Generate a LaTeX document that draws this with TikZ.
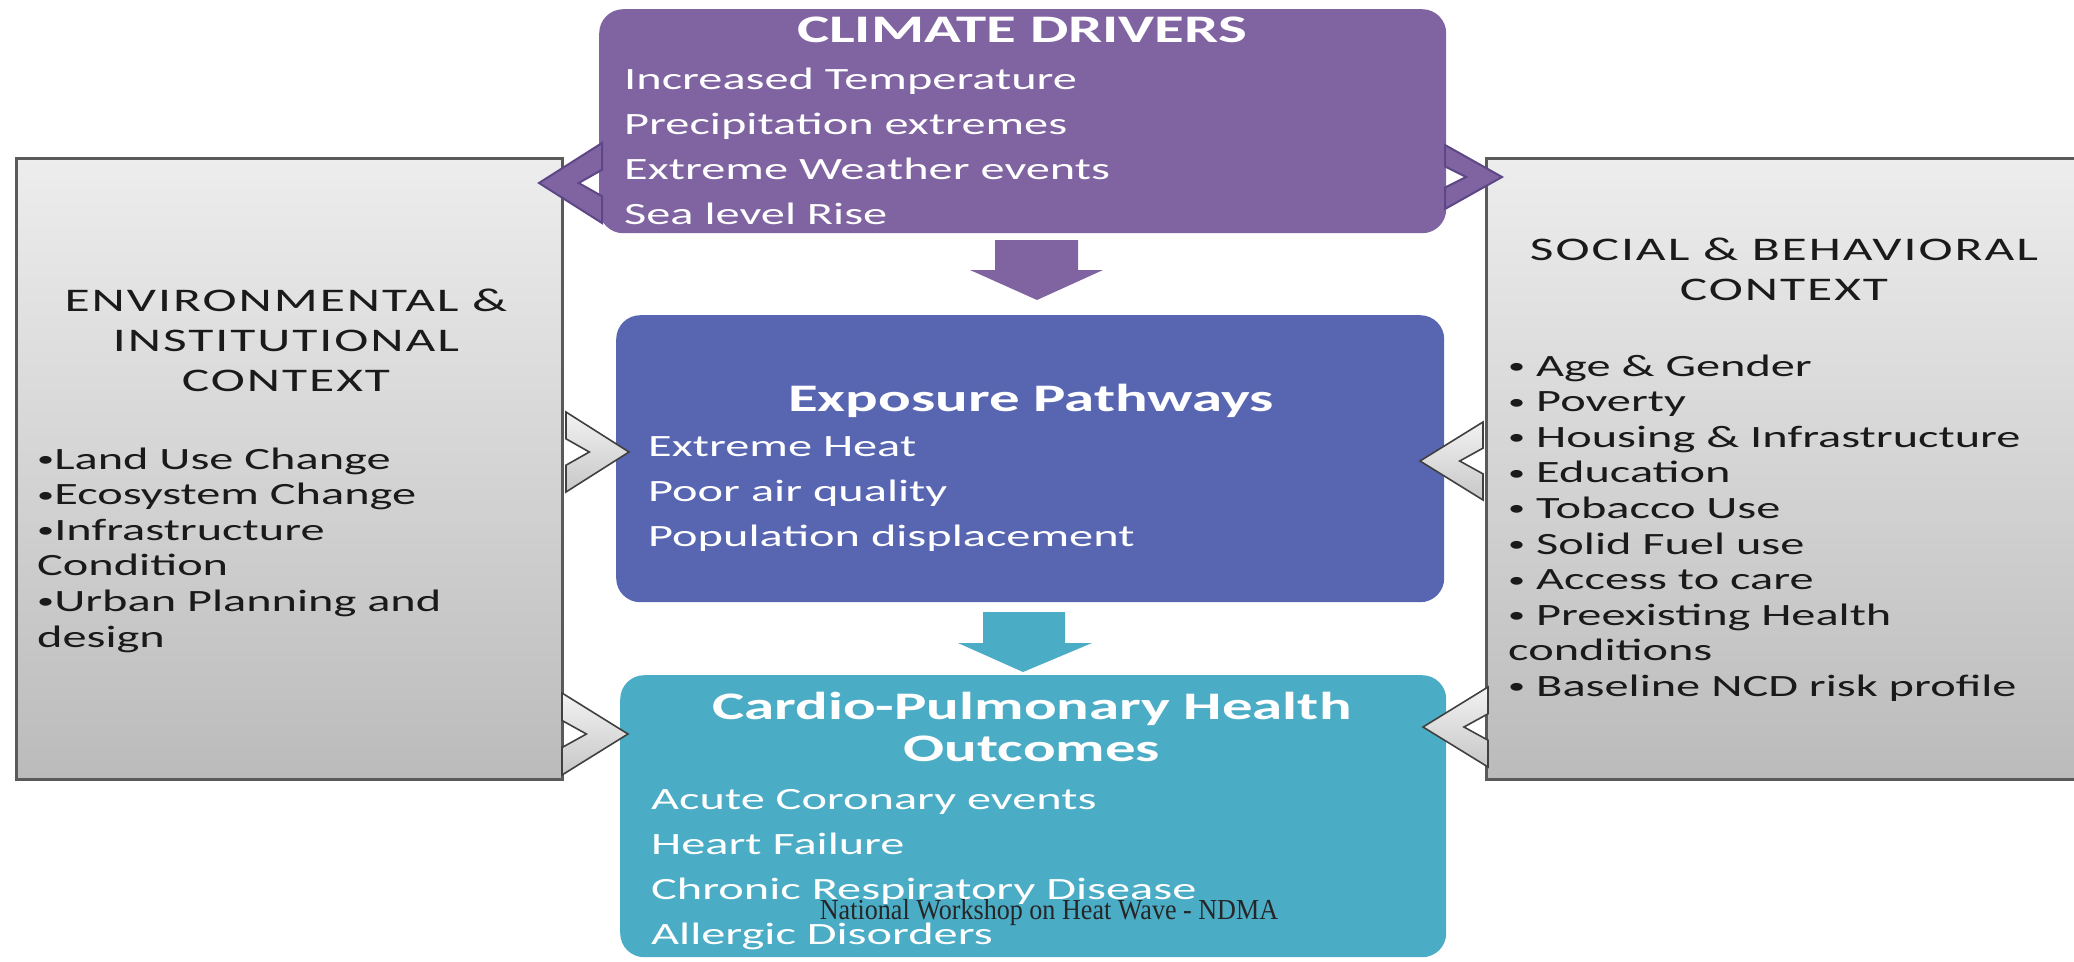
\documentclass[tikz,border=0pt]{standalone}
\usepackage{fontspec}
\setmainfont{Carlito}[FakeStretch=1.56]
\newfontfamily\ctxfont{Carlito}[FakeStretch=1.56, LetterSpace=6]
\newfontfamily\notefont{Liberation Serif}[FakeStretch=0.9]

\definecolor{drvpurple}{HTML}{8064A2}
\definecolor{drvedge}{HTML}{5E4787}
\definecolor{expblue}{HTML}{5866B2}
\definecolor{outteal}{HTML}{4BACC6}
\definecolor{ctxline}{HTML}{5A5A5A}
\definecolor{ctxtop}{HTML}{EDEDED}
\definecolor{ctxbot}{HTML}{BBBBBB}
\definecolor{ctxtext}{HTML}{1A1A1A}

% small list bullet
\newcommand{\bul}{\raisebox{2.5pt}{\fontsize{22}{22}\selectfont•}}

% notched chevron: back x, tip x, centre y, half height
\newcommand{\chevron}[5][]{%
  \path[#1] (#2,{#4-#5}) -- (#3,#4) -- (#2,{#4+#5}) -- (#2,{#4+0.33*#5})
    -- ({#2+0.37*(#3-#2)},#4) -- (#2,{#4-0.33*#5}) -- cycle;}

\tikzset{
  panel/.style={rectangle, rounded corners=24pt, inner sep=0pt, anchor=north west},
  ctxbox/.style={rectangle, draw=ctxline, line width=3pt, top color=ctxtop,
    bottom color=ctxbot, inner sep=0pt, anchor=north west},
  head/.style={text=white, anchor=base, inner sep=0pt,
    font=\bfseries\fontsize{39}{40}\selectfont},
  item/.style={text=white, anchor=base west, inner sep=0pt,
    font=\fontsize{31}{36}\selectfont},
  ctxhead/.style={text=ctxtext, anchor=base, inner sep=0pt,
    font=\ctxfont\fontsize{33}{40}\selectfont},
  ctxitem/.style={text=ctxtext, anchor=base west, inner sep=0pt,
    font=\fontsize{31}{36}\selectfont},
  purplechev/.style={fill=drvpurple, draw=drvedge, line width=2pt},
  greychev/.style={top color=white!95!black, bottom color=white!78!black,
    draw=black!75, line width=1.6pt},
}

\begin{document}
\begin{tikzpicture}[x=1pt, y=-1pt]
  \clip (0,0) rectangle (2074,961);
  \fill[white] (0,0) rectangle (2074,961);

  % context boxes on both sides
  \node[ctxbox, minimum width=546pt, minimum height=621pt] (env) at (15,157) {};
  \node[ctxbox, minimum width=620pt, minimum height=621pt] (soc) at (1485,157) {};

  % centre column
  \node[panel, fill=drvpurple, minimum width=847pt, minimum height=224pt] (drivers) at (599,9) {};
  \node[panel, fill=expblue, minimum width=828pt, minimum height=287pt] (exposure) at (616,315) {};
  \node[panel, fill=outteal, minimum width=826pt, minimum height=282pt] (outcomes) at (620,675) {};

  % down arrows
  \fill[drvpurple] (995,240) -- (1078,240) -- (1078,270) -- (1103,270) -- (1037,300)
    -- (970,270) -- (995,270) -- cycle;
  \fill[outteal] (983,612) -- (1065,612) -- (1065,643) -- (1092,643) -- (1023,672)
    -- (958,643) -- (983,643) -- cycle;

  % chevrons between the columns
  \chevron[purplechev]{602}{539}{183}{40}
  \chevron[purplechev]{1445}{1502}{177}{32}
  \chevron[greychev]{566}{629}{452}{40}
  \chevron[greychev]{1483}{1420}{461}{39}
  \chevron[greychev]{562}{628}{734}{41}
  \chevron[greychev]{1488}{1423}{727}{40}

  % climate drivers
  \node[head] (drvhead) at (1022,42) {CLIMATE DRIVERS};
  \foreach \t [count=\i from 0] in {Increased Temperature, Precipitation extremes,
      Extreme Weather events, Sea level Rise}
    \node[item] (drv\i) at (624,89+45*\i) {\t};

  % exposure
  \node[head] (exphead) at (1031,411) {Exposure Pathways};
  \foreach \t [count=\i from 0] in {Extreme Heat, Poor air quality, Population displacement}
    \node[item] (exp\i) at (648,456+45*\i) {\t};

  % outcomes
  \node[head] (outhead1) at (1032,719) {Cardio-Pulmonary Health};
  \node[head] (outhead2) at (1032,761) {Outcomes};
  \foreach \t [count=\i from 0] in {Acute Coronary events, Heart Failure,
      Chronic Respiratory Disease, Allergic Disorders}
    \node[item] (out\i) at (651,809+45*\i) {\t};

  % environmental context
  \foreach \t [count=\i from 0] in {ENVIRONMENTAL \&, INSTITUTIONAL, CONTEXT}
    \node[ctxhead] (envhead\i) at (286,311+40*\i) {\t};
  \foreach \t [count=\i from 0] in {\bul Land Use Change, \bul Ecosystem Change,
      \bul Infrastructure, Condition, \bul Urban Planning and, design}
    \node[ctxitem] (env\i) at (37,469+35.6*\i) {\t};

  % social context
  \foreach \t [count=\i from 0] in {SOCIAL \& BEHAVIORAL, CONTEXT}
    \node[ctxhead] (sochead\i) at (1784,260+40*\i) {\t};
  \foreach \t [count=\i from 0] in {\bul{} Age \& Gender, \bul{} Poverty,
      \bul{} Housing \& Infrastructure, \bul{} Education, \bul{} Tobacco Use,
      \bul{} Solid Fuel use, \bul{} Access to care, \bul{} Preexisting Health,
      conditions, \bul{} Baseline NCD risk profile}
    \node[ctxitem] (soc\i) at (1508,376+35.6*\i) {\t};

  \node[anchor=base, inner sep=0pt, text=black!85, font=\notefont\fontsize{29}{30}\selectfont]
    (note) at (1049,919) {National Workshop on Heat Wave - NDMA};
\end{tikzpicture}
\end{document}
